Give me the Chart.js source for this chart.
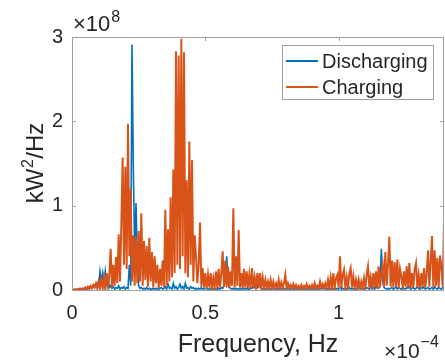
<!DOCTYPE html>
<html>
<head>
<meta charset="utf-8">
<script src="https://cdn.jsdelivr.net/npm/chart.js@4.4.1/dist/chart.umd.min.js"></script>
<style>
  html, body { margin: 0; padding: 0; background: #fff; }
  #psd { display: block; }
</style>
</head>
<body>
<canvas id="psd" width="445" height="360"></canvas>
<script>
// frequency in units of 1e-4 Hz, PSD in units of 1e8 kW^2/Hz
const freqStep = 0.005;
const xTicks = [0, 0.5, 1];
const yTicks = [0, 1, 2, 3];
const seriesNames = ["Discharging", "Charging"];

const discharging = [
  0.00, 0.00, 0.00, 0.01, 0.00, 0.01, 0.01, 0.00, 0.01, 0.01,
  0.01, 0.02, 0.01, 0.03, 0.02, 0.04, 0.03, 0.06, 0.04, 0.08,
  0.05, 0.22, 0.10, 0.20, 0.06, 0.22, 0.08, 0.15, 0.03, 0.05,
  0.02, 0.04, 0.01, 0.03, 0.02, 0.05, 0.01, 0.03, 0.02, 0.04,
  0.01, 0.03, 0.02, 0.30, 0.05, 2.91, 1.44, 0.45, 1.03, 0.35,
  0.05, 0.02, 0.03, 0.01, 0.02, 0.01, 0.03, 0.01, 0.02, 0.01,
  0.01, 0.02, 0.01, 0.02, 0.01, 0.01, 0.02, 0.03, 0.01, 0.02,
  0.04, 0.01, 0.07, 0.02, 0.03, 0.01, 0.08, 0.02, 0.04, 0.01,
  0.03, 0.07, 0.02, 0.04, 0.01, 0.08, 0.02, 0.03, 0.01, 0.04,
  0.02, 0.03, 0.01, 0.02, 0.01, 0.02, 0.01, 0.03, 0.01, 0.02,
  0.01, 0.02, 0.01, 0.01, 0.02, 0.01, 0.01, 0.02, 0.01, 0.01,
  0.02, 0.01, 0.03, 0.02, 0.05, 0.12, 0.40, 0.10, 0.03, 0.02,
  0.01, 0.02, 0.01, 0.02, 0.01, 0.01, 0.02, 0.01, 0.01, 0.02,
  0.01, 0.02, 0.01, 0.01, 0.03, 0.02, 0.05, 0.03, 0.08, 0.04,
  0.13, 0.05, 0.02, 0.01, 0.02, 0.01, 0.01, 0.02, 0.01, 0.01,
  0.01, 0.02, 0.01, 0.01, 0.02, 0.01, 0.03, 0.01, 0.01, 0.02,
  0.01, 0.01, 0.02, 0.01, 0.01, 0.02, 0.01, 0.01, 0.02, 0.01,
  0.01, 0.02, 0.01, 0.01, 0.01, 0.02, 0.01, 0.02, 0.01, 0.01,
  0.02, 0.01, 0.01, 0.02, 0.01, 0.01, 0.02, 0.01, 0.03, 0.01,
  0.02, 0.01, 0.01, 0.03, 0.01, 0.02, 0.01, 0.02, 0.01, 0.02,
  0.01, 0.03, 0.01, 0.02, 0.01, 0.02, 0.01, 0.01, 0.03, 0.01,
  0.02, 0.01, 0.02, 0.01, 0.01, 0.03, 0.01, 0.02, 0.01, 0.02,
  0.01, 0.03, 0.02, 0.01, 0.04, 0.02, 0.03, 0.01, 0.05, 0.02,
  0.02, 0.05, 0.49, 0.10, 0.03, 0.02, 0.01, 0.02, 0.01, 0.02,
  0.03, 0.01, 0.02, 0.04, 0.01, 0.03, 0.02, 0.01, 0.03, 0.02,
  0.01, 0.03, 0.02, 0.04, 0.01, 0.02, 0.03, 0.01, 0.02, 0.04,
  0.02, 0.01, 0.03, 0.02, 0.04, 0.01, 0.02, 0.03, 0.01, 0.02,
  0.03, 0.01, 0.04, 0.02, 0.01, 0.03, 0.02, 0.01, 0.03, 0.02,
];

const charging = [
  0.00, 0.00, 0.01, 0.00, 0.01, 0.01, 0.02, 0.01, 0.02, 0.01,
  0.03, 0.01, 0.04, 0.02, 0.05, 0.02, 0.06, 0.03, 0.08, 0.02,
  0.10, 0.02, 0.12, 0.03, 0.15, 0.02, 0.20, 0.04, 0.18, 0.49,
  0.03, 0.30, 0.05, 0.39, 0.08, 0.66, 0.10, 0.78, 1.57, 0.30,
  1.46, 0.25, 1.97, 0.40, 1.20, 0.10, 0.65, 0.05, 0.62, 0.08,
  0.70, 0.10, 0.91, 0.05, 0.58, 0.12, 0.52, 0.04, 0.62, 0.10,
  0.45, 0.03, 0.40, 0.08, 0.30, 0.02, 0.25, 0.05, 0.35, 0.03,
  0.95, 0.05, 0.72, 0.10, 1.10, 0.15, 1.43, 0.20, 2.83, 0.30,
  2.78, 0.25, 2.98, 0.40, 2.82, 0.20, 1.30, 0.15, 1.76, 0.30,
  1.54, 0.10, 0.65, 0.40, 0.08, 0.30, 0.80, 0.04, 0.26, 0.03,
  0.20, 0.02, 0.18, 0.03, 0.20, 0.02, 0.14, 0.03, 0.22, 0.02,
  0.25, 0.03, 0.20, 0.46, 0.04, 0.35, 0.03, 0.28, 0.02, 0.22,
  0.05, 0.97, 0.03, 0.40, 0.05, 0.71, 0.03, 0.20, 0.02, 0.25,
  0.03, 0.22, 0.02, 0.18, 0.03, 0.26, 0.02, 0.15, 0.03, 0.20,
  0.02, 0.20, 0.03, 0.15, 0.02, 0.12, 0.03, 0.10, 0.02, 0.12,
  0.02, 0.10, 0.03, 0.08, 0.02, 0.12, 0.02, 0.09, 0.03, 0.08,
  0.18, 0.02, 0.08, 0.03, 0.06, 0.02, 0.07, 0.02, 0.06, 0.02,
  0.05, 0.02, 0.06, 0.01, 0.05, 0.02, 0.07, 0.02, 0.05, 0.02,
  0.06, 0.02, 0.08, 0.02, 0.05, 0.02, 0.10, 0.03, 0.07, 0.02,
  0.08, 0.03, 0.12, 0.02, 0.15, 0.03, 0.20, 0.02, 0.14, 0.18,
  0.03, 0.40, 0.02, 0.18, 0.24, 0.03, 0.15, 0.02, 0.20, 0.26,
  0.03, 0.16, 0.02, 0.12, 0.03, 0.12, 0.02, 0.10, 0.03, 0.14,
  0.02, 0.18, 0.28, 0.03, 0.15, 0.02, 0.20, 0.03, 0.22, 0.02,
  0.28, 0.03, 0.20, 0.30, 0.04, 0.45, 0.05, 0.30, 0.63, 0.04,
  0.35, 0.03, 0.33, 0.05, 0.36, 0.02, 0.25, 0.16, 0.03, 0.22,
  0.04, 0.28, 0.03, 0.32, 0.02, 0.20, 0.03, 0.25, 0.32, 0.03,
  0.18, 0.02, 0.20, 0.04, 0.26, 0.03, 0.20, 0.47, 0.04, 0.34,
  0.64, 0.03, 0.47, 0.05, 0.38, 0.03, 0.41, 0.28, 0.04, 0.82,
];

const FONT = "'Liberation Sans', Arial, Helvetica, sans-serif";
const TEXT = "#262626";
const AXIS = "#a0a0a0";
const BLUE = "#0072BD";
const ORANGE = "#D95319";

function toPoints(values) {
  return values.map((v, i) => ({ x: i * freqStep, y: v }));
}

// base text followed by a raised superscript, left-aligned at (x, y)
function withSup(ctx, base, sup, x, y, size, supSize, rise) {
  ctx.font = size + "px " + FONT;
  ctx.fillText(base, x, y);
  const w = ctx.measureText(base).width;
  ctx.font = supSize + "px " + FONT;
  ctx.fillText(sup, x + w + 1, y - rise);
}

// box, inward ticks, exponent labels, y label and the boxed legend (MATLAB look)
const matlabFrame = {
  id: "matlabFrame",
  afterDraw(chart) {
    const { ctx, chartArea: a, scales } = chart;
    ctx.save();
    ctx.strokeStyle = AXIS;
    ctx.lineWidth = 1;
    ctx.strokeRect(a.left + 0.5, a.top + 0.5, a.right - a.left - 1, a.bottom - a.top);

    ctx.beginPath();
    xTicks.forEach((t) => {
      const px = Math.round(scales.x.getPixelForValue(t)) + 0.5;
      ctx.moveTo(px, a.bottom); ctx.lineTo(px, a.bottom - 4);
      ctx.moveTo(px, a.top); ctx.lineTo(px, a.top + 4);
    });
    yTicks.forEach((t) => {
      const py = Math.round(scales.y.getPixelForValue(t)) + 0.5;
      ctx.moveTo(a.left, py); ctx.lineTo(a.left + 4, py);
      ctx.moveTo(a.right, py); ctx.lineTo(a.right - 4, py);
    });
    ctx.stroke();

    ctx.fillStyle = TEXT;
    ctx.textBaseline = "alphabetic";
    ctx.textAlign = "left";
    withSup(ctx, "\u00d710", "8", a.left + 1, 31, 22, 16, 9);
    withSup(ctx, "\u00d710", "\u22124", 384, 358, 21, 16, 11);

    // y axis label, rotated
    ctx.save();
    ctx.translate(43, 163);
    ctx.rotate(-Math.PI / 2);
    ctx.font = "24px " + FONT;
    const wA = ctx.measureText("kW").width;
    const wC = ctx.measureText("/Hz").width;
    ctx.font = "16px " + FONT;
    const wB = ctx.measureText("2").width + 1;
    let x0 = -(wA + wB + wC) / 2;
    ctx.font = "24px " + FONT;
    ctx.fillText("kW", x0, 0);
    ctx.font = "16px " + FONT;
    ctx.fillText("2", x0 + wA + 0.5, -10);
    ctx.font = "24px " + FONT;
    ctx.fillText("/Hz", x0 + wA + wB, 0);
    ctx.restore();

    // legend
    const lx = 282, ly = 45, lw = 151, lh = 54;
    ctx.fillStyle = "#fff";
    ctx.fillRect(lx, ly, lw, lh);
    ctx.strokeStyle = AXIS;
    ctx.strokeRect(lx + 0.5, ly + 0.5, lw, lh);
    ctx.font = "20px " + FONT;
    ctx.textBaseline = "middle";
    chart.data.datasets.forEach((ds, i) => {
      const y = ly + 16 + i * 26;
      ctx.strokeStyle = ds.borderColor;
      ctx.lineWidth = 2;
      ctx.beginPath();
      ctx.moveTo(lx + 4, y); ctx.lineTo(lx + 36, y);
      ctx.stroke();
      ctx.fillStyle = TEXT;
      ctx.fillText(ds.label, lx + 40, y + 1);
    });
    ctx.restore();
  },
};

function renderChart() {
  new Chart(document.getElementById("psd"), {
    type: "line",
    data: {
      datasets: [
        {
          label: seriesNames[0],
          data: toPoints(discharging),
          borderColor: BLUE,
          borderWidth: 1.6,
          pointRadius: 0,
          tension: 0,
          order: 1,
        },
        {
          label: seriesNames[1],
          data: toPoints(charging),
          borderColor: ORANGE,
          borderWidth: 2,
          pointRadius: 0,
          tension: 0,
          order: 0,
        },
      ],
    },
    options: {
      responsive: false,
      animation: false,
      devicePixelRatio: 1,
      layout: { padding: { top: 37, right: 1, left: 0, bottom: 0 } },
      plugins: { legend: { display: false }, tooltip: { enabled: false } },
      scales: {
        x: {
          type: "linear",
          min: 0,
          max: 1.395,
          afterFit: (s) => { s.height = 70; },
          afterBuildTicks: (s) => { s.ticks = xTicks.map((v) => ({ value: v })); },
          grid: { display: false, drawTicks: false },
          border: { display: false },
          ticks: { color: TEXT, font: { family: FONT, size: 20 }, padding: 11, maxRotation: 0, callback: (v) => String(v) },
          title: { display: true, text: "Frequency, Hz", color: TEXT, font: { family: FONT, size: 25 }, padding: { top: 0, bottom: 0 } },
        },
        y: {
          min: 0,
          max: 3,
          afterFit: (s) => { s.width = 72; },
          afterBuildTicks: (s) => { s.ticks = yTicks.map((v) => ({ value: v })); },
          grid: { display: false, drawTicks: false },
          border: { display: false },
          ticks: { color: TEXT, font: { family: FONT, size: 20 }, padding: 9 },
        },
      },
    },
    plugins: [matlabFrame],
  });
}

renderChart();
</script>
</body>
</html>
